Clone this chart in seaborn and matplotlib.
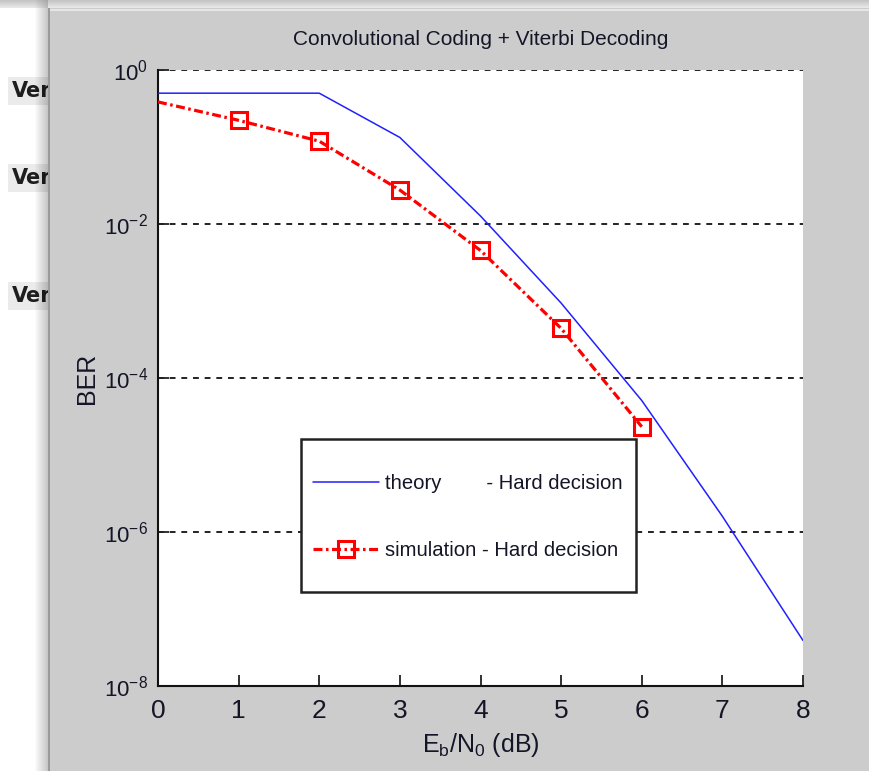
import numpy as np
import pandas as pd
import matplotlib
matplotlib.use("Agg")
import matplotlib.pyplot as plt
import seaborn as sns
from matplotlib.patches import Rectangle

# values
eb_n0 = [0, 1, 2, 3, 4, 5, 6, 7, 8]
ber_theory = [0.5, 0.5, 0.5, 0.133, 0.0127, 9.4e-4, 5.1e-5, 1.6e-6, 3.9e-8]
eb_n0_sim = [0, 1, 2, 3, 4, 5, 6]
ber_sim = [0.385, 0.222, 0.119, 0.0276, 4.53e-3, 4.41e-4, 2.33e-5]
ytick_vals = [1e0, 1e-2, 1e-4, 1e-6, 1e-8]
xtick_vals = [0, 1, 2, 3, 4, 5, 6, 7, 8]

sns.set_theme(style="white")
plt.rcParams["font.family"] = ["Liberation Sans", "DejaVu Sans"]
plt.rcParams["mathtext.fontset"] = "custom"
plt.rcParams["mathtext.rm"] = "Liberation Sans"
plt.rcParams["mathtext.it"] = "Liberation Sans"
plt.rcParams["mathtext.default"] = "regular"
plt.rcParams["axes.unicode_minus"] = False

txt = "#151528"
W, H = 869, 771
fig = plt.figure(figsize=(W / 100, H / 100), dpi=100, facecolor="white")

# background: clipped labels of another window, then the figure window
for yy in [91, 178, 296]:
    fig.text(12 / W, 1 - yy / H, "Vertical", fontsize=15, fontweight="bold",
             family="DejaVu Sans", color="#1e1e1e", va="center", ha="left",
             bbox=dict(boxstyle="square,pad=0.2", fc="#ebebeb", ec="none"))
for i, a in enumerate(np.linspace(0.0, 0.22, 14)):
    fig.patches.append(Rectangle(((34 + i) / W, 0), 1 / W, 1, transform=fig.transFigure,
                                 fc="black", alpha=a, ec="none", zorder=5))
fig.patches.append(Rectangle((48 / W, 0), 1, 1 - 8 / H, transform=fig.transFigure,
                             fc="#cccccc", ec="none", zorder=6))
for i, a in enumerate(np.linspace(0.5, 0.2, 8)):
    fig.patches.append(Rectangle((0, 1 - (i + 1) / H), 1, 1 / H, transform=fig.transFigure,
                                 fc="#8a8a8a", alpha=a, ec="none", zorder=6))
fig.patches.append(Rectangle((48 / W, 1 - 11 / H), 1, 2 / H, transform=fig.transFigure,
                             fc="#e6e6e6", ec="none", zorder=7))
fig.patches.append(Rectangle((48 / W, 0), 2 / W, 1 - 8 / H, transform=fig.transFigure,
                             fc="#9a9a9a", ec="none", zorder=7))

ax = fig.add_axes([158 / W, 85 / H, 645 / W, 616 / H], zorder=10)
ax.set_facecolor("white")

theory = pd.DataFrame({"x": eb_n0, "ber": ber_theory})
sim = pd.DataFrame({"x": eb_n0_sim, "ber": ber_sim})

sns.lineplot(data=theory, x="x", y="ber", ax=ax, color="#2020ff", lw=1.1,
             label="theory        - Hard decision", zorder=3)
sns.lineplot(data=sim, x="x", y="ber", ax=ax, color="red", lw=2.3,
             linestyle=(0, (2.8, 1.1, 0.8, 1.1)), marker="s", markersize=11,
             markerfacecolor="none", markeredgecolor="red", markeredgewidth=2.2,
             markevery=[1, 2, 3, 4, 5, 6], label="simulation - Hard decision", zorder=4)

ax.set_yscale("log")
ax.set_xlim(0, 8)
ax.set_ylim(1e-8, 1)
ax.set_yticks(ytick_vals)
ax.yaxis.set_minor_locator(matplotlib.ticker.NullLocator())
ax.yaxis.set_major_formatter(matplotlib.ticker.FuncFormatter(
    lambda v, p: r"$10^{%d}$" % round(np.log10(v))))
ax.set_xticks(xtick_vals)
ax.set_xticklabels([str(v) for v in xtick_vals])

for yv in ytick_vals[:-1]:
    ax.axhline(yv, color="#222222", lw=1.4, ls=(0, (3, 3)), zorder=1)

for side in ["top", "right"]:
    ax.spines[side].set_visible(False)
for side in ["left", "bottom"]:
    ax.spines[side].set_color("#111111")
    ax.spines[side].set_linewidth(1.5)

ax.tick_params(axis="both", direction="in", length=8, width=1.3, color="#222222",
               labelcolor=txt, left=True, bottom=True)
ax.tick_params(axis="x", labelsize=19, pad=9)
ax.tick_params(axis="y", labelsize=16, pad=7)

ax.set_title("Convolutional Coding + Viterbi Decoding", fontsize=15, color=txt, pad=18)
ax.set_xlabel(r"$\mathrm{E_b/N_0}$ (dB)", fontsize=18, color=txt, labelpad=6)
ax.set_ylabel("BER", fontsize=18, color=txt, labelpad=4)

# legend box drawn as a patch so its padding can match the reference
ax.add_patch(Rectangle((0.2217, 0.1526), 0.5194, 0.2484, transform=ax.transAxes,
                       fc="white", ec="#222222", lw=1.8, zorder=20))
leg = ax.legend(loc="center left", bbox_to_anchor=(0.2403, 0.2744), fontsize=14.6,
                frameon=False, borderpad=0, labelspacing=2.4,
                handlelength=3.25, handletextpad=0.32, borderaxespad=0)
leg.set_zorder(21)
for t in leg.get_texts():
    t.set_color(txt)

fig.savefig("out.png", dpi=100, facecolor=fig.get_facecolor())
